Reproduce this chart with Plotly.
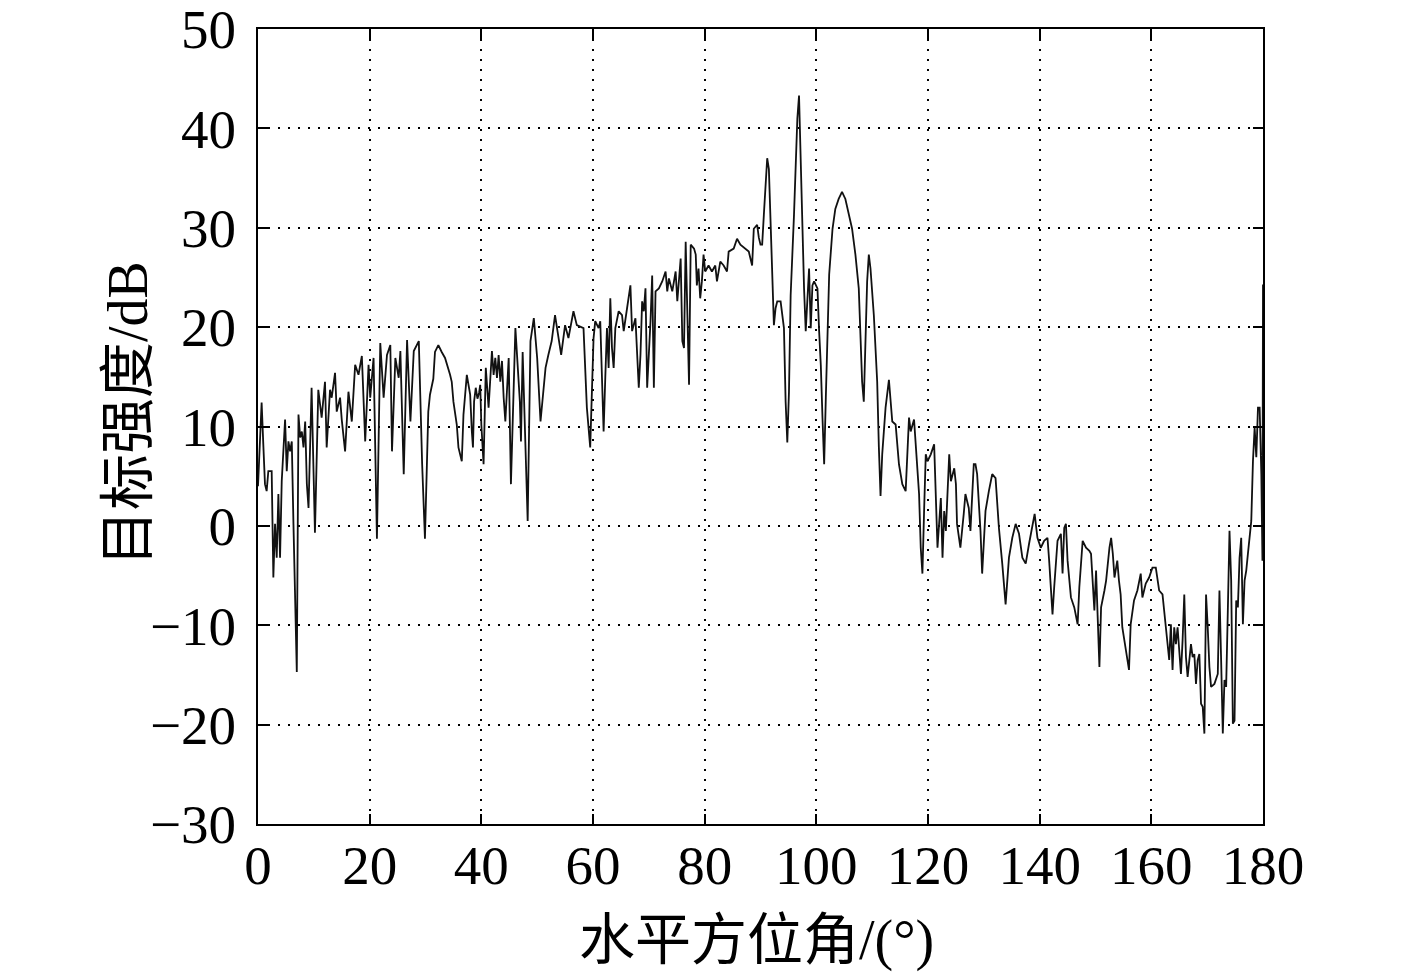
import plotly.graph_objects as go

azimuth_deg = [
    0, 0.65, 0.95, 1.25, 1.55, 1.85, 2.45, 2.75, 3.05, 3.35, 3.65, 3.95, 4.25, 4.85, 5.15, 5.45, 5.75, 6.05, 6.35, 6.95,
    7.25, 7.55, 7.85, 8.15, 8.45, 8.75, 9.05, 9.6, 10.2, 10.8, 11.4, 12.0, 12.3, 12.9, 13.2, 13.8, 14.1, 14.7, 15.0, 15.6,
    16.2, 16.8, 17.4, 18.0, 18.6, 19.2, 19.8, 20.1, 20.7, 21.3, 21.9, 22.5, 23.1, 23.7, 24.0, 24.6, 25.2, 25.5, 26.1, 26.7,
    27.3, 27.9, 28.8, 29.4, 29.9, 30.5, 30.8, 31.4, 31.7, 32.3, 32.9, 33.5, 34.4, 34.7, 35.0, 35.6, 35.9, 36.5, 36.8, 37.4,
    37.7, 38.0, 38.3, 38.5, 38.7, 39.0, 39.3, 39.6, 39.8, 40.0, 40.4, 40.8, 41.3, 41.6, 41.9, 42.2, 42.5, 42.8, 43.1, 43.4,
    43.7, 44.0, 44.3, 44.9, 45.3, 46.1, 46.5, 46.9, 47.1, 47.4, 48.3, 48.8, 49.4, 50.0, 50.6, 51.5, 52.0, 52.6, 53.2, 53.8,
    54.3, 55.0, 55.6, 56.5, 57.1, 58.3, 58.6, 58.9, 59.5, 60.1, 60.4, 61.0, 61.3, 61.6, 61.9, 62.2, 62.5, 62.8, 63.1, 63.4,
    63.7, 64.0, 64.6, 65.2, 65.5, 66.1, 66.7, 67.0, 67.6, 68.2, 68.5, 68.8, 69.1, 69.4, 69.7, 70.3, 70.6, 70.9, 71.2, 71.8,
    72.4, 73.0, 73.3, 73.6, 74.2, 74.8, 75.1, 75.7, 76.0, 76.3, 76.6, 77.2, 77.5, 78.1, 78.4, 78.6, 78.9, 79.2, 79.5, 79.8,
    80.1, 80.7, 81.3, 81.9, 82.2, 82.8, 83.4, 84.0, 84.3, 85.2, 85.8, 86.4, 87.3, 87.9, 88.5, 88.8, 89.4, 89.7, 90.0, 90.3,
    90.6, 91.2, 91.5, 92.1, 92.4, 92.7, 93.0, 93.6, 94.2, 94.5, 94.8, 95.1, 95.4, 96.0, 96.6, 96.9, 97.2, 97.5, 97.8, 98.1,
    98.4, 98.7, 99.0, 99.3, 99.6, 100.2, 100.5, 100.8, 101.1, 101.4, 101.7, 102.0, 102.3, 102.9, 103.4, 104.0, 104.6, 105.2,
    105.8, 106.4, 107.0, 107.6, 107.9, 108.2, 108.5, 108.8, 109.1, 109.4, 109.7, 110.3, 110.9, 111.2, 111.5, 111.8, 112.4,
    113.0, 113.6, 114.2, 114.8, 115.4, 116.0, 116.6, 116.9, 117.5, 117.8, 118.1, 118.4, 118.7, 119.0, 119.3, 119.6, 119.9,
    120.5, 121.1, 121.4, 121.7, 122.3, 122.6, 122.9, 123.2, 123.8, 124.1, 124.7, 125.0, 125.2, 125.8, 126.4, 126.7, 127.3,
    127.6, 128.2, 128.5, 128.8, 129.4, 129.7, 130.3, 130.9, 131.5, 132.1, 132.7, 133.3, 133.9, 134.5, 135.1, 135.7, 136.3,
    136.9, 137.5, 138.1, 138.7, 139.1, 139.6, 140.2, 140.8, 141.4, 141.7, 142.3, 142.6, 143.2, 143.8, 144.1, 144.4, 144.7,
    145.0, 145.6, 146.2, 146.8, 147.1, 147.7, 148.3, 148.9, 149.2, 149.5, 149.8, 150.1, 150.4, 150.7, 151.0, 151.3, 151.6,
    151.9, 152.2, 152.5, 152.8, 153.1, 153.4, 153.9, 154.2, 154.5, 154.8, 155.4, 156.0, 156.3, 156.9, 157.5, 158.1, 158.4,
    159.0, 159.6, 160.2, 160.8, 161.4, 162.0, 162.3, 162.6, 163.2, 163.5, 163.8, 164.1, 164.4, 164.7, 165.3, 165.6, 165.9,
    166.2, 166.5, 167.1, 167.4, 167.7, 168.0, 168.3, 168.6, 168.9, 169.2, 169.5, 169.8, 170.1, 170.4, 170.7, 171.3, 171.9,
    172.2, 172.5, 172.8, 173.1, 173.4, 173.7, 174.0, 174.3, 174.6, 174.9, 175.2, 175.5, 175.8, 176.1, 176.4, 176.7, 177.0,
    177.3, 177.9, 178.2, 178.5, 178.8, 179.1, 179.4, 179.7, 179.9, 180.0,
]

target_strength_db = [
    4.0, 12.4, 8.2, 4.2, 3.5, 5.5, 5.5, -5.2, 0.2, -3.2, 3.2, -3.2, 4.5, 10.7, 5.5, 8.5, 7.5, 8.5, 0.2, -14.7,
    11.2, 8.9, 9.5, 7.9, 10.5, 4.2, 1.8, 13.9, -0.7, 13.7, 10.9, 14.5, 7.9, 13.7, 12.9, 15.4, 11.5, 12.9, 10.7, 7.5,
    13.5, 10.5, 16.2, 15.2, 17.1, 8.5, 16.2, 12.9, 16.9, -1.3, 18.4, 12.9, 17.2, 18.2, 7.5, 16.9, 14.9, 17.6, 5.2, 18.7,
    10.5, 17.6, 18.6, 6.2, -1.3, 11.5, 13.2, 14.8, 17.5, 18.2, 17.5, 16.9, 15.2, 14.5, 12.5, 10.2, 7.9, 6.5, 11.2, 15.2,
    14.2, 13.2, 9.5, 7.9, 12.5, 13.9, 12.8, 13.4, 14.2, 10.2, 6.2, 15.9, 11.9, 14.5, 17.6, 15.2, 16.9, 14.9, 17.2, 14.5,
    16.6, 12.9, 10.5, 16.9, 4.2, 19.9, 15.9, 12.5, 8.5, 17.5, 0.5, 18.6, 20.9, 16.9, 10.5, 15.9, 17.2, 18.6, 21.2, 19.2,
    17.2, 20.2, 18.9, 21.6, 20.2, 19.9, 16.2, 11.9, 7.9, 18.9, 20.6, 19.9, 20.6, 14.9, 9.5, 14.9, 19.9, 15.9, 22.9, 17.9,
    15.9, 19.9, 21.6, 21.2, 19.6, 21.9, 24.2, 19.6, 20.9, 13.9, 17.2, 22.6, 21.6, 23.9, 13.9, 20.6, 25.2, 13.9, 23.6, 23.9,
    24.6, 25.6, 23.6, 24.9, 23.6, 25.6, 22.6, 26.9, 18.6, 17.9, 28.6, 14.2, 28.3, 27.9, 27.3, 24.2, 25.9, 22.9, 24.6, 27.3,
    25.6, 26.2, 25.6, 26.2, 24.6, 26.6, 26.2, 25.6, 27.6, 27.9, 28.9, 28.3, 27.9, 27.6, 26.2, 29.9, 30.3, 29.0, 28.3, 28.3,
    31.3, 37.0, 35.9, 26.3, 20.2, 21.9, 22.6, 22.6, 19.9, 12.5, 8.4, 13.5, 23.2, 31.3, 41.0, 43.3, 36.3, 31.3, 23.9, 19.6,
    23.2, 25.9, 19.9, 24.2, 24.6, 23.9, 19.6, 16.2, 10.9, 6.2, 12.9, 19.9, 25.3, 29.9, 31.9, 32.9, 33.6, 32.9,
    31.3, 29.9, 27.3, 23.9, 19.2, 14.5, 12.5, 17.9, 24.6, 27.3, 25.9, 21.2, 14.5, 7.9, 3.0, 7.2, 11.9,
    14.7, 10.5, 10.2, 6.2, 4.2, 3.5, 10.9, 9.5, 10.7, 7.9, 5.2, 3.2, -2.2, -4.8, 1.5, 7.2, 6.5,
    7.2, 8.2, 3.5, -2.2, 2.8, -3.2, 1.5, -0.5, 7.2, 4.5, 5.8, 4.2, 0.2, -2.2, 1.2, 3.2, 1.8,
    -0.5, 6.2, 6.2, 5.2, -0.5, -4.8, 1.5, 3.5, 5.2, 4.8, -0.2, -3.8, -7.9, -3.2, -1.2, 0.2, -0.8,
    -3.2, -3.8, -1.8, -0.2, 1.2, -1.2, -2.2, -1.5, -1.2, -3.5, -8.9, -6.2, -1.5, -0.8, -4.8, -0.2, 0.2,
    -3.5, -7.2, -8.2, -9.9, -6.2, -1.5, -2.2, -2.5, -2.8, -5.5, -8.5, -4.5, -8.9, -14.2, -8.2, -7.5, -6.5,
    -5.5, -3.5, -2.2, -1.2, -2.8, -5.2, -3.5, -5.5, -6.9, -10.2, -12.5, -14.5, -9.9, -7.5, -6.5, -4.8, -7.2,
    -5.8, -5.2, -4.2, -4.2, -6.5, -6.9, -8.5, -10.5, -13.5, -9.9, -14.5, -10.2, -11.9, -10.2, -14.9, -11.5, -6.9,
    -13.2, -15.2, -11.9, -13.2, -12.9, -15.9, -13.5, -12.9, -17.9, -18.2, -20.9, -6.9, -10.2, -14.2, -16.2, -15.9, -14.9,
    -6.5, -13.5, -20.9, -15.5, -16.2, -8.5, -0.5, -5.5, -19.9, -19.6, -7.5, -8.2, -3.2, -1.2, -9.9, -5.5, -4.5,
    -2.8, 0.5, 6.5, 9.9, 6.9, 11.9, 11.9, 5.2, -3.5, 24.3,
]

x_ticks = [0, 20, 40, 60, 80, 100, 120, 140, 160, 180]
y_ticks = [-30, -20, -10, 0, 10, 20, 30, 40, 50]
x_title = "水平方位角/(°)"
y_title = "目标强度/dB"

font_fam = "Liberation Serif, Times New Roman, Noto Sans CJK SC, serif"

fig = go.Figure()
fig.add_trace(go.Scatter(
    x=azimuth_deg, y=target_strength_db, mode="lines",
    line=dict(color="#111111", width=1.8), showlegend=False, hoverinfo="skip",
))

axis_common = dict(
    showline=True, linecolor="black", linewidth=2, mirror="allticks",
    ticks="inside", ticklen=10, tickwidth=2, tickcolor="black",
    showgrid=True, gridcolor="black", gridwidth=2, griddash="2px,8px",
    zeroline=False, automargin=False, ticklabeloverflow="allow",
    tickfont=dict(family=font_fam, size=55, color="black"),
)

fig.update_xaxes(
    range=[0, 180], tickvals=x_ticks, ticktext=[str(v) for v in x_ticks],
    ticklabelstandoff=-8, **axis_common,
)
fig.update_yaxes(
    range=[-30, 50.001], tickvals=y_ticks, ticktext=[("\u2212" + str(-v)) if v < 0 else str(v) for v in y_ticks],
    ticklabelstandoff=9, **axis_common,
)

fig.update_layout(
    width=1417, height=976,
    margin=dict(l=250, r=162, t=21, b=160),
    paper_bgcolor="white", plot_bgcolor="white",
    annotations=[
        dict(text=x_title, xref="paper", yref="paper", x=0.4965, y=-0.146,
             xanchor="center", yanchor="middle", showarrow=False,
             font=dict(family=font_fam, size=56, color="black")),
        dict(text=y_title, xref="paper", yref="paper", x=-0.1294, y=0.517,
             xanchor="center", yanchor="middle", showarrow=False, textangle=-90,
             font=dict(family=font_fam, size=56, color="black")),
    ],
)

fig.write_html("out.html")
